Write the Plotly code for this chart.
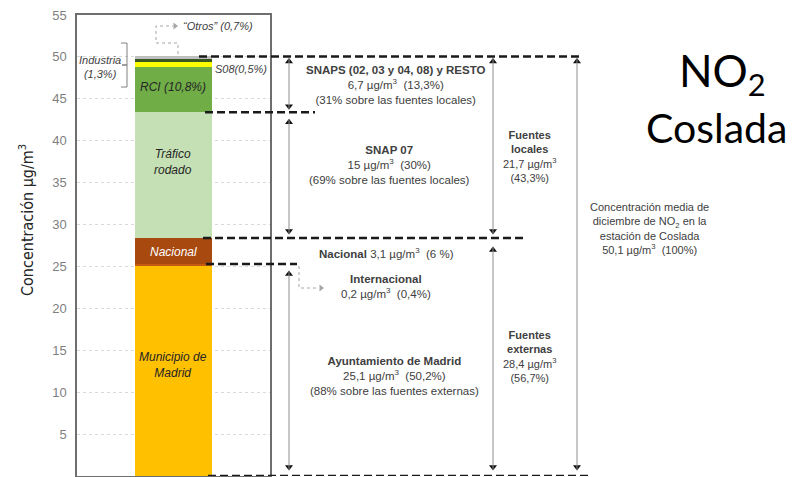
import plotly.graph_objects as go

# Aportaciones a la concentración media de NO2 (diciembre) en la estación de Coslada, µg/m3
componentes = ["Municipio de Madrid", "Internacional", "Nacional", "Tráfico rodado",
               "RCI", "Industria", "S08", "Otros"]
valores = [25.1, 0.2, 3.1, 15.0, 5.4, 0.65, 0.25, 0.35]
colores = ["#FFC000", "#C55A11", "#A84A10", "#C5E0B4",
           "#70AD47", "#FFFF00", "#385723", "#BFBFBF"]

# niveles acumulados (para líneas y flechas)
acum = []
s = 0
for v in valores:
    s += v
    acum.append(s)
nivel_total = acum[-1]
nivel_trafico = acum[3]      # techo del tráfico rodado
nivel_nacional = acum[2]     # techo de fuentes externas
nivel_madrid = acum[1]       # Madrid + internacional

# geometría de la página (px)
L, R, T, B = 77, 793, 15, 476
W, H = R - L, B - T
PXU = H / 55.0


def X(px):
    return (px - L) / W


def Yp(py):
    return (B - py) / H


def Yv(py):
    # posición en px -> valor del eje y
    return (B - py) / PXU


def gap(px):
    return px / PXU


fig = go.Figure()
for nombre, valor, color in zip(componentes, valores, colores):
    fig.add_trace(go.Bar(x=["Coslada"], y=[valor], name=nombre, width=0.4,
                         marker=dict(color=color, line=dict(width=0)),
                         showlegend=False))

fig.update_layout(
    barmode="stack", width=793, height=477,
    margin=dict(l=L, r=0, t=T, b=1, autoexpand=False),
    plot_bgcolor="rgba(0,0,0,0)", paper_bgcolor="white",
    font=dict(family="Liberation Sans, Arial, sans-serif", size=12, color="#404040"),
    # ejes auxiliares invisibles a lo ancho de la figura para las anotaciones gráficas
    xaxis2=dict(domain=[0, 1], range=[L, R], anchor="y2", visible=False),
    yaxis2=dict(domain=[0, 1], range=[0, 55], anchor="x2", visible=False),
    xaxis=dict(domain=[0, X(270)], range=[-0.5, 0.5], showticklabels=False,
               showgrid=False, showline=True, mirror=True,
               linecolor="#6e6e6e", linewidth=1.5, automargin=False),
    yaxis=dict(range=[0, 55], dtick=5, showline=True, mirror=True,
               linecolor="#6e6e6e", linewidth=1.5, zeroline=False,
               gridcolor="#d9d9d9", griddash="dot", automargin=False,
               tickfont=dict(size=13, color="#7f7f7f"), ticklabelstandoff=6),
)

# líneas discontinuas horizontales
discontinuas = [(nivel_total, 199, 580), (nivel_trafico, 205, 315),
                (nivel_nacional, 203, 527), (nivel_madrid, 206, 297), (0, 208, 590)]
for nivel, x0, x1 in discontinuas:
    fig.add_shape(type="line", xref="x2", yref="y2", x0=x0, x1=x1,
                  y0=nivel, y1=nivel, line=dict(color="#1a1a1a", width=2.5, dash="8px,4px"))

# flechas verticales (x px, nivel sup, hueco sup px, nivel inf, hueco inf px)
flechas = [(289, nivel_total, 2, nivel_trafico, 3),
           (289, nivel_trafico, 7, nivel_nacional, 4),
           (289, nivel_madrid, 7, 0, 6),
           (493, nivel_total, 2, nivel_nacional, 4),
           (493, nivel_nacional, 9, 0, 6),
           (577, nivel_total, 2, 0, 6)]
cab_x, cab_y, cab_s = [], [], []
for xp, ysup, gs, yinf, gi in flechas:
    y0 = ysup - gap(gs)
    y1 = yinf + gap(gi)
    fig.add_shape(type="line", xref="x2", yref="y2", x0=xp, x1=xp,
                  y0=y0, y1=y1, line=dict(color="#8c8c8c", width=1))
    cab_x += [xp, xp]
    cab_y += [y0 - gap(3), y1 + gap(3)]
    cab_s += ["triangle-up", "triangle-down"]
fig.add_trace(go.Scatter(x=cab_x, y=cab_y, xaxis="x2", yaxis="y2", mode="markers",
                         marker=dict(symbol=cab_s, size=7, color="#111111"),
                         cliponaxis=False, hoverinfo="skip", showlegend=False))

# guías punteadas
guias = [[(178, 54), (178, 43), (156, 43), (156, 26), (173, 26)],
         [(299, 266), (299, 288), (319, 288)]]
for puntos in guias:
    path = "M " + " L ".join(f"{a},{Yv(b):.4f}" for a, b in puntos)
    fig.add_shape(type="path", xref="x2", yref="y2", path=path,
                  line=dict(color="#a6a6a6", width=1, dash="dot"))
fig.add_trace(go.Scatter(x=[175, 321], y=[Yv(26), Yv(288)], xaxis="x2", yaxis="y2",
                         mode="markers", cliponaxis=False, hoverinfo="skip", showlegend=False,
                         marker=dict(symbol="triangle-right", size=6, color="#a6a6a6")))

# llave de Industria
llave = [(121, 43), (127, 43), (127, 65), (122, 65), (127, 65), (127, 87), (121, 87)]
fig.add_shape(type="path", xref="x2", yref="y2",
              path="M " + " L ".join(f"{a},{Yv(b):.4f}" for a, b in llave),
              line=dict(color="#808080", width=1))


def texto(t, xp, yp, size=12, color="#404040", anchor="center", family=None, angle=0):
    f = dict(size=size, color=color)
    if family:
        f["family"] = family
    fig.add_annotation(x=X(xp), y=Yp(yp), xref="paper", yref="paper", text=t,
                       showarrow=False, xanchor=anchor, yanchor="middle",
                       font=f, textangle=angle)


# etiquetas de la barra
texto("<i>“Otros” (0,7%)</i>", 181, 26, size=11, anchor="left")
texto("<i>Industria<br>(1,3%)</i>", 100, 67, size=11)
texto("<i>S08(0,5%)</i>", 213, 69, size=11, anchor="left")
texto("<i>RCI (10,8%)</i>", 173, 87, size=12, color="#262626")
texto("<i>Tráfico<br>rodado</i>", 173, 162, color="#262626")
texto("<i>Nacional</i>", 173, 252, color="white")
texto("<i>Municipio de<br>Madrid</i>", 173, 365, color="#262626")

sup = "µg/m<sup>3</sup>"
texto("<b>SNAPS (02, 03 y 04, 08) y RESTO</b><br>"
      f"6,7 {sup}  (13,3%)<br>(31% sobre las fuentes locales)", 395, 85, size=11.5)
texto(f"<b>SNAP 07</b><br>15 {sup}  (30%)<br>(69% sobre las fuentes locales)",
      389, 165, size=11.5)
texto(f"<b>Nacional</b> 3,1 {sup}  (6 %)", 386, 253, size=11.5)
texto(f"<b>Internacional</b><br>0,2 {sup}  (0,4%)", 386, 286, size=11.5)
texto(f"<b>Ayuntamiento de Madrid</b><br>25,1 {sup}  (50,2%)<br>"
      "(88% sobre las fuentes externas)", 394, 376, size=11.5)
texto(f"<b>Fuentes</b><br><b>locales</b><br>21,7 {sup}<br>(43,3%)", 529, 157, size=11)
texto(f"<b>Fuentes</b><br><b>externas</b><br>28,4 {sup}<br>(56,7%)", 529, 356, size=11)
texto("Concentración media de<br>diciembre de NO<sub>2</sub> en la<br>"
      f"estación de Coslada<br>50,1 {sup}  (100%)", 649, 228, size=11)

# título
texto("NO<sub>2</sub>", 722, 73, size=44, color="black", family="Lato, Open Sans, sans-serif")
texto("Coslada", 716, 127, size=41, color="black", family="Lato, Open Sans, sans-serif")

# título del eje Y
texto("Concentración µg/m<sup>3</sup>", 26, 220, size=16, color="#262626",
      family="Liberation Sans Narrow, DejaVu Sans Condensed, sans-serif", angle=-90)

fig.write_html("out.html", config={"displayModeBar": False},
               post_script="document.body.style.margin='0';")
